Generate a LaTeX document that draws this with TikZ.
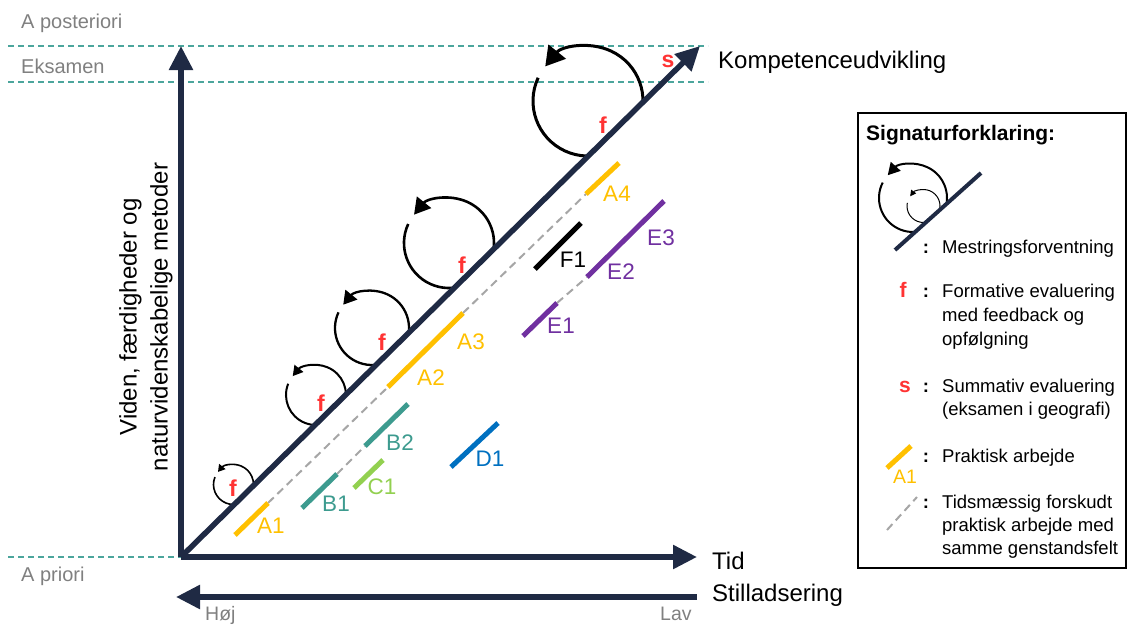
\documentclass[tikz,border=0pt]{standalone}
\usepackage{fontspec}
\setmainfont{Liberation Sans}
\usetikzlibrary{arrows.meta}
\definecolor{navy}{HTML}{1F2A44}
\definecolor{tealc}{HTML}{4BA59C}
\definecolor{redc}{HTML}{FF3333}
\definecolor{ayel}{HTML}{FFC000}
\definecolor{bteal}{HTML}{3D9B8F}
\definecolor{cgreen}{HTML}{92D050}
\definecolor{dblue}{HTML}{0070C0}
\definecolor{epurp}{HTML}{7030A0}
\definecolor{graytxt}{HTML}{808080}
\definecolor{graydash}{HTML}{A6A6A6}
\begin{document}
\begin{tikzpicture}[x=1pt,y=-1pt,
  axisline/.style={draw=navy, line width=5.5pt, -{Triangle[length=24pt,width=23pt]}},
  tealdash/.style={draw=tealc, line width=1.5pt, dash pattern=on 6pt off 4pt},
  bar/.style={line width=5pt},
  gdash/.style={draw=graydash, line width=2pt, dash pattern=on 8pt off 5pt},
  loopline/.style={draw=black},
  flabel/.style={text=redc, font=\fontsize{23}{23}\selectfont\bfseries, inner sep=0pt},
  barlabel/.style={font=\fontsize{22.5}{22.5}\selectfont, inner sep=0pt},
  graylabel/.style={text=graytxt, font=\fontsize{20}{20}\selectfont, anchor=base west, inner sep=0pt},
  smallgray/.style={text=graytxt, font=\fontsize{19.5}{19.5}\selectfont, anchor=base west, inner sep=0pt},
  bigtext/.style={font=\fontsize{24}{24}\selectfont, anchor=base west, inner sep=0pt},
  legtext/.style={font=\fontsize{18.5}{18.5}\selectfont, anchor=base west, inner sep=0pt},
  legcolon/.style={font=\fontsize{18.5}{18.5}\selectfont\bfseries, anchor=base, inner sep=0pt}
]
\useasboundingbox (0,0) rectangle (1128,625);

% coordinates
\coordinate (O) at (181,557);
\coordinate (Ytip) at (181,46);
\coordinate (Xtip) at (697,557);
\coordinate (Dtip) at (700,46);
\coordinate (Sstart) at (697,597);
\coordinate (Stip) at (176,597);

% teal dashed guide lines
\coordinate (t1a) at (8,46);  \coordinate (t1b) at (708,46);
\coordinate (t2a) at (8,82);  \coordinate (t2b) at (708,82);
\coordinate (t3a) at (8,557);
\draw[tealdash] (t1a) -- (t1b);
\draw[tealdash] (t2a) -- (t2b);
\draw[tealdash] (t3a) -- (O);

% gray labels
\node[graylabel] (apost) at (21,28) {A posteriori};
\node[graylabel] (eks) at (21,73) {Eksamen};
\node[graylabel] (aprio) at (21,581) {A priori};
\node[smallgray] (hoj) at (205,620) {Høj};
\node[smallgray] (lav) at (660,620) {Lav};

% mastery loops (clipped by the diagonal)
\begin{scope}
\clip (0,735) -- (800,-52.5) -- (0,-52.5) -- cycle;
\draw[loopline, line width=3pt, -{Triangle[length=19pt,width=22pt]}]
  (588,101) ++(205:55) arc[start angle=205, end angle=-141, radius=55];
\draw[loopline, line width=2.6pt, -{Triangle[length=16pt,width=18pt]}]
  (449,243) ++(205:45) arc[start angle=205, end angle=-141, radius=45];
\draw[loopline, line width=2.3pt, -{Triangle[length=13pt,width=15pt]}]
  (372,328) ++(205:37) arc[start angle=205, end angle=-141, radius=37];
\draw[loopline, line width=2pt, -{Triangle[length=10pt,width=11pt]}]
  (316,395) ++(202:30) arc[start angle=202, end angle=-141, radius=30];
\draw[loopline, line width=1.6pt, -{Triangle[length=7pt,width=8pt]}]
  (233.5,484.5) ++(202:20) arc[start angle=202, end angle=-141, radius=20];
\end{scope}

% practical work bars
\coordinate (a1s) at (235,535); \coordinate (a1e) at (268,503);
\coordinate (a2s) at (388,387); \coordinate (a3e) at (463,313);
\coordinate (a4s) at (586,194); \coordinate (a4e) at (619,163);
\coordinate (b1s) at (302,508); \coordinate (b1e) at (337,474);
\coordinate (b2s) at (365,446); \coordinate (b2e) at (408,404);
\coordinate (c1s) at (354,488); \coordinate (c1e) at (383,460);
\coordinate (d1s) at (451,467); \coordinate (d1e) at (498,423);
\coordinate (e1s) at (523,336); \coordinate (e1e) at (557,303);
\coordinate (e2s) at (587,277); \coordinate (e3e) at (664,201);
\coordinate (f1s) at (535,269); \coordinate (f1e) at (581,223);

\draw[gdash] (a1e) -- (a2s);
\draw[gdash] (a3e) -- (a4s);
\draw[gdash] (b1e) -- (b2s);
\draw[gdash] (e1e) -- (e2s);

\draw[bar, ayel] (a1s) -- (a1e);
\draw[bar, ayel] (a2s) -- (a3e);
\draw[bar, ayel] (a4s) -- (a4e);
\draw[bar, bteal] (b1s) -- (b1e);
\draw[bar, bteal] (b2s) -- (b2e);
\draw[bar, cgreen] (c1s) -- (c1e);
\draw[bar, dblue] (d1s) -- (d1e);
\draw[bar, epurp] (e1s) -- (e1e);
\draw[bar, epurp] (e2s) -- (e3e);
\draw[bar, black] (f1s) -- (f1e);

\node[barlabel, text=ayel] (A1) at (271,526) {A1};
\node[barlabel, text=ayel] (A2) at (431,378) {A2};
\node[barlabel, text=ayel] (A3) at (471,342) {A3};
\node[barlabel, text=ayel] (A4) at (617,194) {A4};
\node[barlabel, text=bteal] (B1) at (336,504) {B1};
\node[barlabel, text=bteal] (B2) at (400,443) {B2};
\node[barlabel, text=cgreen] (C1) at (382,487) {C1};
\node[barlabel, text=dblue] (D1) at (490,459) {D1};
\node[barlabel, text=epurp] (E1) at (561,326) {E1};
\node[barlabel, text=epurp] (E2) at (621,272) {E2};
\node[barlabel, text=epurp] (E3) at (661,238) {E3};
\node[barlabel, text=black] (F1) at (573,260) {F1};

% axes
\draw[axisline] (O) -- (Ytip);
\draw[axisline] (O) -- (Xtip);
\draw[axisline] (O) -- (Dtip);
\draw[axisline] (Sstart) -- (Stip);

% f and s labels
\node[flabel] (f1) at (603,125) {f};
\node[flabel] (f2) at (462,265) {f};
\node[flabel] (f3) at (382,342) {f};
\node[flabel] (f4) at (321,403) {f};
\node[flabel] (f5) at (233,488) {f};
\node[flabel] (s1) at (668,61) {s};

% axis texts
\node[bigtext] (komp) at (718,68) {Kompetenceudvikling};
\node[bigtext] (tid) at (712,569) {Tid};
\node[bigtext] (still) at (712,601) {Stilladsering};
\node[font=\fontsize{24}{31}\selectfont, rotate=90, align=center, inner sep=0pt] (ylab) at (146,317)
  {Viden, færdigheder og\\naturvidenskabelige metoder};

% legend
\draw[black, line width=1.5pt] (858,113) rectangle (1126,568);
\node[font=\fontsize{21}{21}\selectfont\bfseries, anchor=base west, inner sep=0pt] (legtitle) at (866,140) {Signaturforklaring:};

\coordinate (lgs) at (895,250); \coordinate (lge) at (981,173);
\begin{scope}
\clip (850,290.3) -- (1000,156) -- (1000,100) -- (850,100) -- cycle;
\draw[loopline, line width=2pt, -{Triangle[length=12pt,width=13pt]}]
  (913,198) ++(207:34) arc[start angle=207, end angle=-138, radius=34];
\draw[loopline, line width=1pt, -{Triangle[length=6pt,width=6pt]}]
  (923.5,206) ++(191:16.5) arc[start angle=191, end angle=-144, radius=16.5];
\end{scope}
\draw[navy, line width=4pt] (lgs) -- (lge);

\node[legcolon] (col1) at (926,253) {:};
\node[legtext] (m1) at (942,253) {Mestringsforventning};

\node[text=redc, font=\fontsize{21}{21}\selectfont\bfseries, anchor=base, inner sep=0pt] (lf) at (903,297) {f};
\node[legcolon] (col2) at (926,297) {:};
\node[legtext] (fo1) at (942,297) {Formative evaluering};
\node[legtext] (fo2) at (942,321) {med feedback og};
\node[legtext] (fo3) at (942,345) {opfølgning};

\node[text=redc, font=\fontsize{21}{21}\selectfont\bfseries, anchor=base, inner sep=0pt] (ls) at (905,392) {s};
\node[legcolon] (col3) at (926,392) {:};
\node[legtext] (su1) at (942,392) {Summativ evaluering};
\node[legtext] (su2) at (942,415) {(eksamen i geografi)};

\coordinate (lys) at (887,468); \coordinate (lye) at (911,446);
\draw[bar, ayel] (lys) -- (lye);
\node[text=ayel, font=\fontsize{19.5}{19.5}\selectfont, anchor=base, inner sep=0pt] (lA1) at (905,483) {A1};
\node[legcolon] (col4) at (926,462) {:};
\node[legtext] (pr1) at (942,462) {Praktisk arbejde};

\coordinate (lds) at (887,530); \coordinate (lde) at (917,497);
\draw[gdash] (lds) -- (lde);
\node[legcolon] (col5) at (926,508) {:};
\node[legtext] (ti1) at (942,508) {Tidsmæssig forskudt};
\node[legtext] (ti2) at (942,531) {praktisk arbejde med};
\node[legtext] (ti3) at (942,554) {samme genstandsfelt};
\end{tikzpicture}
\end{document}
